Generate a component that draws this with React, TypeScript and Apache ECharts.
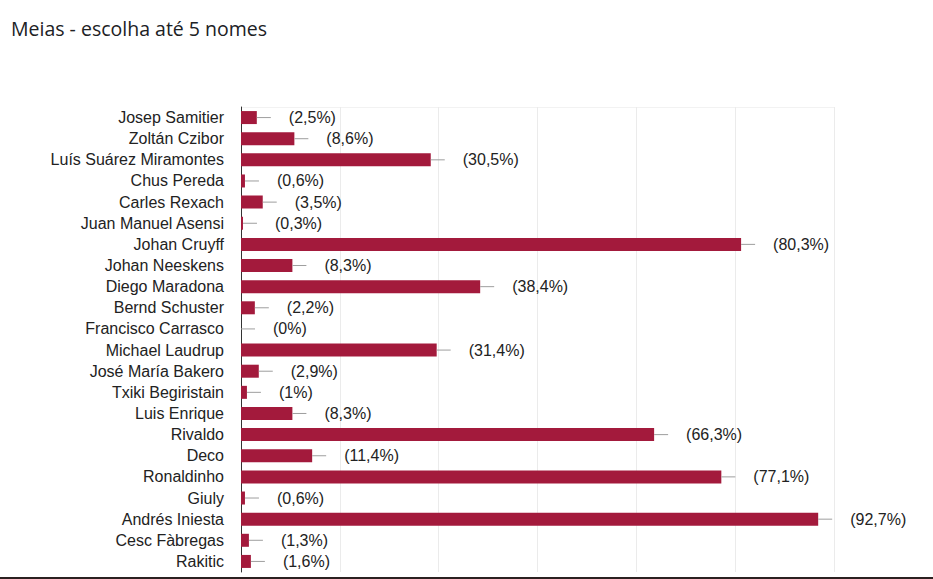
import React, { useEffect, useRef } from "react";
import * as echarts from "echarts";

const categories = [
  "Josep Samitier",
  "Zoltán Czibor",
  "Luís Suárez Miramontes",
  "Chus Pereda",
  "Carles Rexach",
  "Juan Manuel Asensi",
  "Johan Cruyff",
  "Johan Neeskens",
  "Diego Maradona",
  "Bernd Schuster",
  "Francisco Carrasco",
  "Michael Laudrup",
  "José María Bakero",
  "Txiki Begiristain",
  "Luis Enrique",
  "Rivaldo",
  "Deco",
  "Ronaldinho",
  "Giuly",
  "Andrés Iniesta",
  "Cesc Fàbregas",
  "Rakitic",
];

const counts = [8, 27, 96, 2, 11, 1, 253, 26, 121, 7, 0, 99, 9, 3, 26, 209, 36, 243, 2, 292, 4, 5];

const pctLabels = [
  "(2,5%)", "(8,6%)", "(30,5%)", "(0,6%)", "(3,5%)", "(0,3%)", "(80,3%)", "(8,3%)",
  "(38,4%)", "(2,2%)", "(0%)", "(31,4%)", "(2,9%)", "(1%)", "(8,3%)", "(66,3%)",
  "(11,4%)", "(77,1%)", "(0,6%)", "(92,7%)", "(1,3%)", "(1,6%)",
];

const titleText = "Meias - escolha até 5 nomes";

export default function App() {
  const ref = useRef<HTMLDivElement>(null);

  useEffect(() => {
    if (!ref.current) return;
    const chart = echarts.init(ref.current, null, { renderer: "svg" });
    const gridLeft = 241;
    const gridRight = 99;
    const gridTop = 107;
    const gridBottom = 7;

    chart.setOption({
      animation: false,
      backgroundColor: "#ffffff",
      title: {
        text: titleText,
        left: 11,
        top: 18,
        padding: 0,
        textStyle: {
          fontFamily: "'Open Sans', Roboto, Arial, sans-serif",
          fontSize: 19.5,
          fontWeight: "normal",
          color: "#202124",
        },
      },
      grid: {
        left: gridLeft,
        right: gridRight,
        top: gridTop,
        bottom: gridBottom,
        containLabel: false,
      },
      xAxis: {
        type: "value",
        min: 0,
        max: 300,
        interval: 50,
        axisLabel: { show: false },
        axisLine: { show: false },
        axisTick: { show: false },
        splitLine: { show: true, lineStyle: { color: "#ebebeb", width: 1 } },
      },
      yAxis: {
        type: "category",
        data: categories,
        inverse: true,
        axisTick: { show: false },
        axisLine: { show: true, lineStyle: { color: "#333333", width: 1 } },
        axisLabel: {
          margin: 17,
          fontFamily: "Arial, 'Liberation Sans', sans-serif",
          fontSize: 16,
          color: "#222222",
        },
        splitLine: { show: false },
      },
      series: [
        {
          type: "bar",
          data: counts,
          barWidth: 13,
          itemStyle: { color: "#A31A3C" },
          label: {
            show: true,
            position: "right",
            distance: 32,
            formatter: (p: any) => pctLabels[p.dataIndex],
            fontFamily: "Arial, 'Liberation Sans', sans-serif",
            fontSize: 16,
            color: "#222222",
          },
          z: 2,
        },
        {
          type: "custom",
          data: counts.map((c, i) => [c, i]),
          encode: { x: 0, y: 1 },
          renderItem: (params: any, api: any) => {
            const pt = api.coord([api.value(0), api.value(1)]);
            return {
              type: "line",
              shape: { x1: pt[0], y1: pt[1], x2: pt[0] + 14, y2: pt[1] },
              style: { stroke: "#9e9e9e", lineWidth: 1 },
            };
          },
          z: 3,
          silent: true,
        },
      ],
      graphic: [
        {
          type: "line",
          shape: { x1: gridLeft, y1: gridTop + 0.5, x2: 834, y2: gridTop + 0.5 },
          style: { stroke: "#f2f2f2", lineWidth: 1 },
          z: 0,
        },
        {
          type: "rect",
          shape: { x: 0, y: 577, width: 933, height: 2 },
          style: { fill: "#2b2020" },
        },
      ],
    });

    return () => chart.dispose();
  }, []);

  return (
    <div
      ref={ref}
      style={{ position: "fixed", left: 0, top: 0, width: 933, height: 579 }}
    />
  );
}
